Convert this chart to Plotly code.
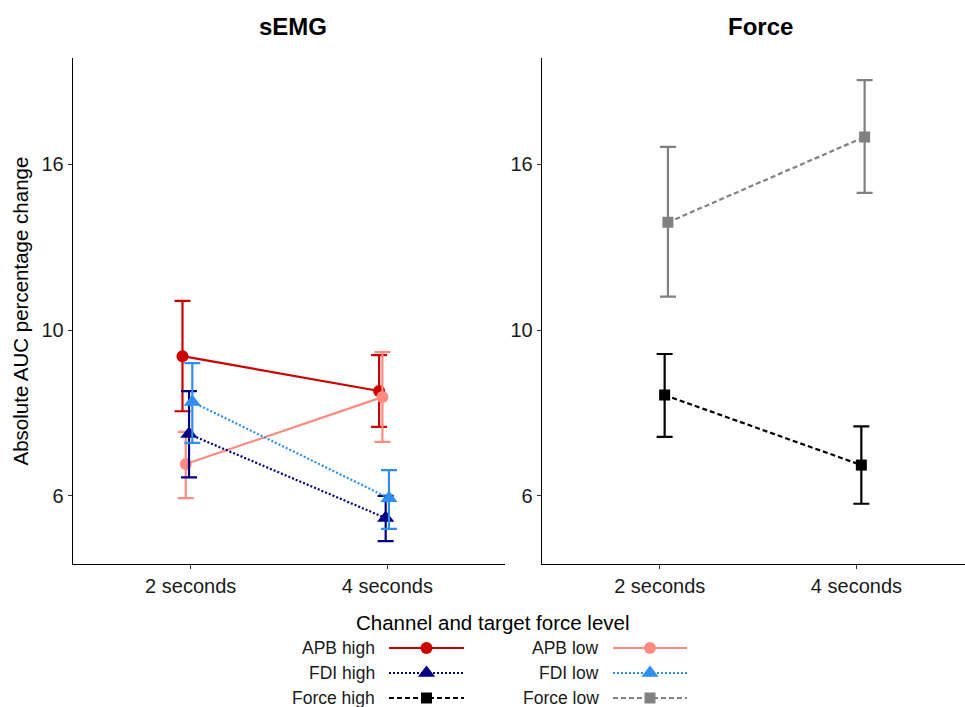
import math
import plotly.graph_objects as go

# ---------------- data ----------------
categories = ["2 seconds", "4 seconds"]
y_tick_logs = [1.8, 2.3, 2.8]          # natural-log break positions
y_tick_labels = ["6", "10", "16"]

series_names = ["APB high", "APB low", "FDI high", "FDI low", "Force high", "Force low"]
series_panel = ["sEMG", "sEMG", "sEMG", "sEMG", "Force", "Force"]

apb_high_mean = [9.22, 8.30]
apb_high_lo = [7.81, 7.45]
apb_high_hi = [10.89, 9.25]

apb_low_mean = [6.66, 8.15]
apb_low_lo = [6.01, 7.12]
apb_low_hi = [7.34, 9.33]

fdi_high_mean = [7.29, 5.66]
fdi_high_lo = [6.40, 5.28]
fdi_high_hi = [8.30, 6.05]

fdi_low_mean = [8.03, 6.01]
fdi_low_lo = [7.10, 5.48]
fdi_low_hi = [9.03, 6.54]

force_high_mean = [8.20, 6.64]
force_high_lo = [7.23, 5.91]
force_high_hi = [9.28, 7.46]

force_low_mean = [13.80, 17.85]
force_low_lo = [11.03, 15.08]
force_low_hi = [17.32, 21.18]

means = [apb_high_mean, apb_low_mean, fdi_high_mean, fdi_low_mean, force_high_mean, force_low_mean]
lows = [apb_high_lo, apb_low_lo, fdi_high_lo, fdi_low_lo, force_high_lo, force_low_lo]
highs = [apb_high_hi, apb_low_hi, fdi_high_hi, fdi_low_hi, force_high_hi, force_low_hi]

# ---------------- styles ----------------
colors = ["#CD0000", "#FF8A80", "#000080", "#2E8FF0", "#000000", "#808080"]
dashes = ["solid", "solid", "2px,2px", "2px,2px", "5px,3px", "5px,3px"]
symbols = ["circle", "circle", "triangle-up", "triangle-up", "square", "square"]
msizes = [12, 12, 15, 15, 11, 11]

W, H = 965, 707
FONT = "Liberation Sans, Arial, Helvetica, sans-serif"


def px(x):
    return x / W


def py(y):
    return 1 - y / H


dodge_width = 0.1
n_groups = len(series_names)

fig = go.Figure()

for i, name in enumerate(series_names):
    off = (i - (n_groups - 1) / 2) * dodge_width / n_groups
    xs = [k + 1 + off for k in range(len(categories))]
    m = means[i]
    plus = [h - v for h, v in zip(highs[i], m)]
    minus = [v - l for v, l in zip(m, lows[i])]
    panel = series_panel[i]
    fig.add_trace(go.Scatter(
        x=xs, y=m,
        mode="lines+markers",
        name=name,
        line=dict(color=colors[i], width=2.2, dash=dashes[i]),
        marker=dict(symbol=symbols[i], size=msizes[i], color=colors[i], line=dict(width=0)),
        error_y=dict(type="data", symmetric=False, array=plus, arrayminus=minus,
                     color=colors[i], thickness=2.2, width=8),
        xaxis="x" if panel == "sEMG" else "x2",
        yaxis="y" if panel == "sEMG" else "y2",
        showlegend=False,
    ))

# ---------------- custom legend (keys on hidden axis in pixel units) ----------------
legend_cols = [(389, 464, 377), (613, 687, 601)]   # key start, key end, label right edge
legend_rows = [648, 673, 698]
order = [[0, 2, 4], [1, 3, 5]]
annotations = []
for c, (x0, x1, lab_r) in enumerate(legend_cols):
    for r, yrow in enumerate(legend_rows):
        i = order[c][r]
        fig.add_trace(go.Scatter(
            x=[x0, x1], y=[yrow, yrow], mode="lines",
            line=dict(color=colors[i], width=2.2, dash=dashes[i]),
            xaxis="x3", yaxis="y3", showlegend=False, hoverinfo="skip"))
        fig.add_trace(go.Scatter(
            x=[(x0 + x1) / 2], y=[yrow], mode="markers",
            marker=dict(symbol=symbols[i], size=msizes[i], color=colors[i], line=dict(width=0)),
            xaxis="x3", yaxis="y3", showlegend=False, hoverinfo="skip"))
        annotations.append(dict(
            x=px(lab_r), y=py(yrow), xref="paper", yref="paper",
            text=series_names[i], showarrow=False, xanchor="right", yanchor="middle",
            font=dict(family=FONT, size=17.5, color="#1a1a1a")))

annotations.append(dict(x=px(493), y=py(622), xref="paper", yref="paper",
                        text="Channel and target force level", showarrow=False,
                        xanchor="center", yanchor="middle",
                        font=dict(family=FONT, size=20.5, color="#000000")))
annotations.append(dict(x=px(292.5), y=py(27), xref="paper", yref="paper",
                        text="<b>sEMG</b>", showarrow=False, xanchor="center", yanchor="middle",
                        font=dict(family=FONT, size=24, color="#000000")))
annotations.append(dict(x=px(760), y=py(27), xref="paper", yref="paper",
                        text="<b>Force</b>", showarrow=False, xanchor="center", yanchor="middle",
                        font=dict(family=FONT, size=24, color="#000000")))
annotations.append(dict(x=px(19.5), y=py(311), xref="paper", yref="paper",
                        text="Absolute AUC percentage change", showarrow=False,
                        textangle=-90, xanchor="center", yanchor="middle",
                        font=dict(family=FONT, size=20.5, color="#000000")))

ln_bottom, ln_top = 1.595, 3.119
yrange = [ln_bottom / math.log(10), ln_top / math.log(10)]
tickvals = [math.exp(v) for v in y_tick_logs]

common_x = dict(tickvals=[1, 2], ticktext=categories, showline=True, linecolor="#000000",
                linewidth=1, ticks="outside", ticklen=4, tickcolor="#333333", tickwidth=1,
                tickfont=dict(family=FONT, size=20, color="#1a1a1a"),
                showgrid=False, zeroline=False, fixedrange=True)
common_y = dict(type="log", range=yrange, tickvals=tickvals, ticktext=y_tick_labels,
                showline=True, linecolor="#000000", linewidth=1, ticks="outside",
                ticklen=4, tickcolor="#333333", tickwidth=1,
                tickfont=dict(family=FONT, size=20, color="#1a1a1a"),
                showgrid=False, zeroline=False, domain=[py(564), py(58.3)], fixedrange=True)

fig.update_layout(
    width=W, height=H,
    margin=dict(l=0, r=0, t=0, b=0),
    paper_bgcolor="white", plot_bgcolor="rgba(0,0,0,0)",
    font=dict(family=FONT),
    xaxis=dict(domain=[px(72.7), px(505.3)], range=[0.4, 2.6], anchor="y", **common_x),
    yaxis=dict(anchor="x", **common_y),
    xaxis2=dict(domain=[px(541.7), 1.0], range=[0.4, 0.4 + (W - 541.7) / 196.7], anchor="y2", **common_x),
    yaxis2=dict(anchor="x2", **common_y),
    xaxis3=dict(domain=[0, 1], range=[0, W], visible=False, anchor="y3", fixedrange=True),
    yaxis3=dict(domain=[0, py(600)], range=[H, 600], visible=False, anchor="x3", fixedrange=True),
    annotations=annotations,
    showlegend=False,
)

fig.write_html("out.html", config={"displayModeBar": False},
               post_script="document.body.style.margin='0px';document.body.style.overflow='hidden';")
